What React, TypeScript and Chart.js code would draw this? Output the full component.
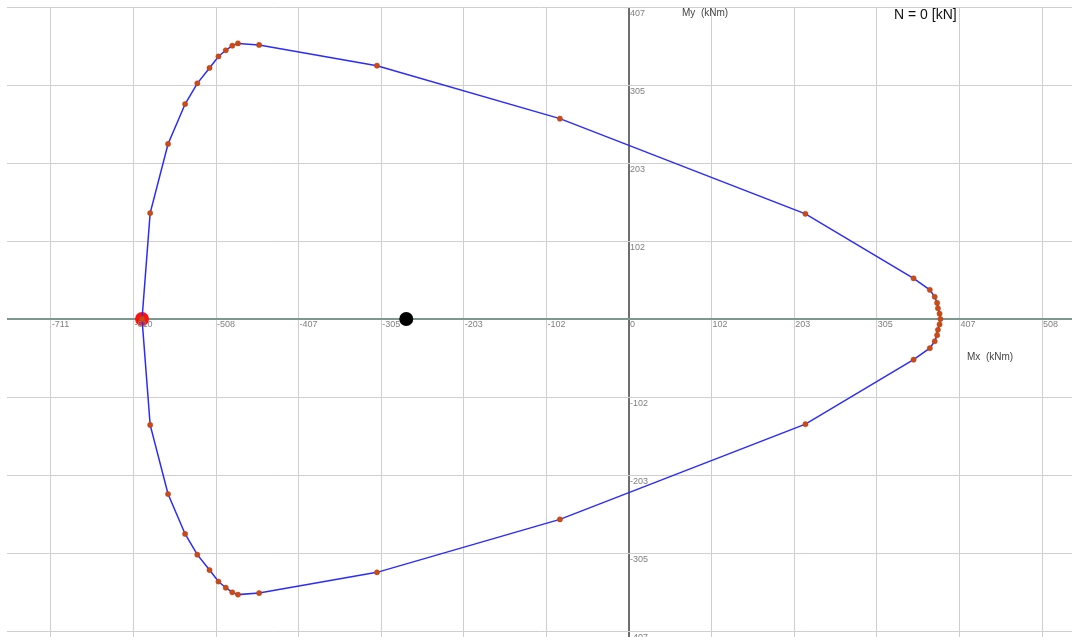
import React, { useEffect, useRef } from "react";
import { Chart, registerables } from "chart.js";

Chart.register(...registerables);

// Interaction diagram (N = 0 kN)
const mxValues = [
  -599, -589, -567, -546, -531, -516, -505, -496, -488, -481, -455, -310, -85, 217, 350, 370, 376, 379, 380, 382, 383,
  382, 380, 379, 376, 370, 350, 217, -85, -310, -455, -481, -488, -496, -505, -516, -531, -546, -567, -589, -599,
];
const myValues = [
  0, 138, 228, 280, 307, 327, 342, 350, 356, 359, 357, 330, 261, 137, 53, 38, 29, 21, 14, 7, 0,
  -7, -14, -21, -29, -38, -53, -137, -261, -330, -357, -359, -356, -350, -342, -327, -307, -280, -228, -138, 0,
];
const redPoint = { mx: -599, my: 0 };
const blackPoint = { mx: -274, my: 0 };

const xTickValues = [-711.2, -609.6, -508, -406.4, -304.8, -203.2, -101.6, 0, 101.6, 203.2, 304.8, 406.4, 508];
const xTickLabels = ["-711", "-610", "-508", "-407", "-305", "-203", "-102", "0", "102", "203", "305", "407", "508"];
const yTickValues = [-406.4, -304.8, -203.2, -101.6, 0, 101.6, 203.2, 304.8, 406.4];
const yTickLabels = ["-407", "-305", "-203", "-102", "", "102", "203", "305", "407"];

const titleText = "N = 0 [kN]";
const xAxisTitle = "Mx  (kNm)";
const yAxisTitle = "My  (kNm)";

const labelPlugin = {
  id: "labelPlugin",
  afterDraw(chart: any) {
    const ctx = chart.ctx;
    const xs = chart.scales.x;
    const ys = chart.scales.y;
    const x0 = xs.getPixelForValue(0);
    const y0 = ys.getPixelForValue(0);
    ctx.save();
    ctx.font = "9px 'Liberation Sans', Arial, sans-serif";
    ctx.fillStyle = "#808080";
    ctx.textBaseline = "top";
    ctx.textAlign = "left";
    xTickValues.forEach((v, i) => {
      ctx.fillText(xTickLabels[i], xs.getPixelForValue(v) + 1, y0 + 1);
    });
    yTickValues.forEach((v, i) => {
      if (!yTickLabels[i]) return;
      ctx.fillText(yTickLabels[i], x0 + 1, ys.getPixelForValue(v) + 2);
    });
    ctx.font = "10px 'Liberation Sans', Arial, sans-serif";
    ctx.fillStyle = "#444444";
    ctx.textBaseline = "middle";
    ctx.fillText(yAxisTitle, x0 + 53, 13);
    ctx.fillText(xAxisTitle, 967, 357);
    ctx.font = "14px 'Liberation Sans', Arial, sans-serif";
    ctx.fillStyle = "#111111";
    ctx.fillText(titleText, 894, 15);
    ctx.restore();
  },
};

export default function App() {
  const canvasRef = useRef<HTMLCanvasElement | null>(null);

  useEffect(() => {
    if (!canvasRef.current) return;
    const polygon = mxValues.map((mx, i) => ({ x: mx, y: myValues[i] }));
    const chart = new Chart(canvasRef.current, {
      type: "scatter",
      data: {
        datasets: [
          {
            data: polygon,
            showLine: true,
            borderColor: "#2b2bff",
            borderWidth: 1.5,
            pointRadius: 2.6,
            pointBackgroundColor: "#cc4a14",
            pointBorderColor: "#b8400e",
            pointBorderWidth: 0.5,
            tension: 0,
          },
          {
            data: [{ x: redPoint.mx, y: redPoint.my }],
            pointRadius: 7,
            pointBackgroundColor: "#ff1010",
            pointBorderColor: "#ff1010",
            borderWidth: 0,
          },
          {
            data: [{ x: blackPoint.mx, y: blackPoint.my }],
            pointRadius: 7,
            pointBackgroundColor: "#000000",
            pointBorderColor: "#000000",
            borderWidth: 0,
          },
        ],
      },
      options: {
        animation: false,
        responsive: true,
        maintainAspectRatio: false,
        layout: { autoPadding: false, padding: { left: 7, top: 7, right: 0, bottom: 0 } },
        plugins: { legend: { display: false }, tooltip: { enabled: false } },
        scales: {
          x: {
            type: "linear",
            min: -765.1,
            max: 544.9,
            afterBuildTicks: (scale: any) => {
              scale.ticks = xTickValues.map((value) => ({ value }));
            },
            ticks: { display: false },
            border: { display: false },
            grid: {
              drawTicks: false,
              color: (c: any) => (c.tick && c.tick.value === 0 ? "#6e6e6e" : "#cfcfcf"),
              lineWidth: (c: any) => (c.tick && c.tick.value === 0 ? 2 : 1),
            },
          },
          y: {
            type: "linear",
            min: -414.2,
            max: 406.4,
            afterBuildTicks: (scale: any) => {
              scale.ticks = yTickValues.map((value) => ({ value }));
            },
            ticks: { display: false },
            border: { display: false },
            grid: {
              drawTicks: false,
              color: (c: any) => (c.tick && c.tick.value === 0 ? "#7d988e" : "#cfcfcf"),
              lineWidth: (c: any) => (c.tick && c.tick.value === 0 ? 2 : 1),
            },
          },
        },
      },
      plugins: [labelPlugin],
    });
    return () => chart.destroy();
  }, []);

  return (
    <div style={{ position: "fixed", left: 0, top: 0, width: 1072, height: 637, background: "#ffffff" }}>
      <canvas ref={canvasRef} />
    </div>
  );
}
